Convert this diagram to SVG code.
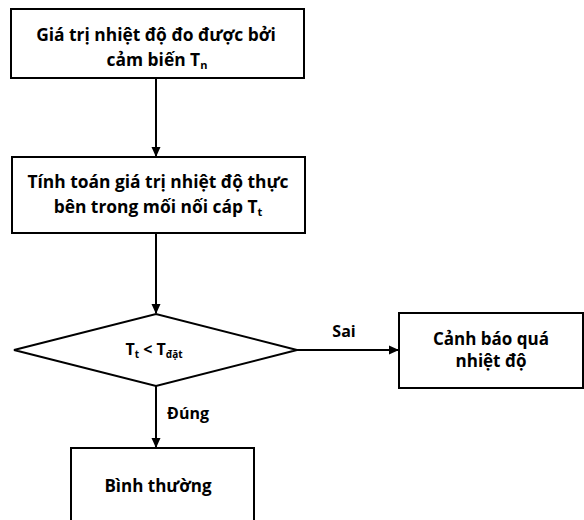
<svg xmlns="http://www.w3.org/2000/svg" width="584" height="520" viewBox="0 0 584 520">
<style>
.box{fill:#fff;stroke:#000;stroke-width:2}
.t{font-family:"Open Sans","Liberation Sans",sans-serif;font-weight:bold;font-size:16px;fill:#000;text-anchor:middle}
.big{font-size:17.4px}
.mid{font-size:17px}
.sub{font-size:11px}
.sub2{font-size:10px}
.c{stroke:#000;stroke-width:2;fill:none}
</style>
<defs>
<marker id="ah" markerWidth="10" markerHeight="10" refX="9" refY="5" orient="auto" markerUnits="userSpaceOnUse">
<path d="M0,0.5 L10,5 L0,9.5 Z" fill="#000"/>
</marker>
</defs>
<rect width="584" height="520" fill="#fff"/>
<g id="connectors">
<line class="c" x1="156" y1="78" x2="156" y2="156" marker-end="url(#ah)"/>
<line class="c" x1="156" y1="233" x2="156" y2="313" marker-end="url(#ah)"/>
<line class="c" x1="297" y1="350" x2="398" y2="350" marker-end="url(#ah)"/>
<line class="c" x1="156" y1="386" x2="156" y2="447" marker-end="url(#ah)"/>
<text class="t" x="344" y="337">Sai</text>
<text class="t" x="188" y="419">Đúng</text>
</g>
<g id="node-measure">
<rect class="box" x="11" y="9" width="293" height="69"/>
<text class="t big" x="156" y="41">Giá trị nhiệt độ đo được bởi</text>
<text class="t big" x="157" y="66">cảm biến T<tspan class="sub" dy="3">n</tspan></text>
</g>
<g id="node-compute">
<rect class="box" x="12" y="157" width="293" height="76"/>
<text class="t big" x="158" y="188">Tính toán giá trị nhiệt độ thực</text>
<text class="t big" x="158" y="213">bên trong mối nối cáp T<tspan class="sub" dy="3">t</tspan></text>
</g>
<g id="node-decision">
<polygon class="box" points="14,350 156,314 297,350 156,386"/>
<text class="t" x="154" y="355">T<tspan class="sub2" dy="3">t</tspan><tspan dy="-3"> &lt; T</tspan><tspan class="sub2" dy="3">đặt</tspan></text>
</g>
<g id="node-warning">
<rect class="box" x="399" y="313" width="184" height="75"/>
<text class="t mid" x="491" y="345">Cảnh báo quá</text>
<text class="t mid" x="491" y="367">nhiệt độ</text>
</g>
<g id="node-normal">
<rect class="box" x="71" y="448" width="183" height="80"/>
<text class="t mid" x="158" y="492">Bình thường</text>
</g>
</svg>
